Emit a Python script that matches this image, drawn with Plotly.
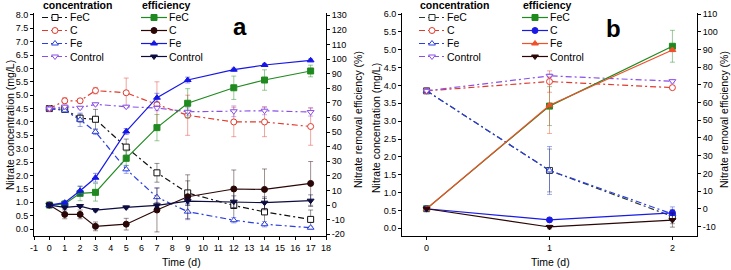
import plotly.graph_objects as go

W, H = 731, 270

# ---------------- data: panel a ----------------
days_a = [0, 1, 2, 3, 5, 7, 9, 12, 14, 17]
conc_a_FeC = [4.50, 4.47, 4.14, 4.10, 3.06, 2.10, 1.35, 0.88, 0.64, 0.36]
conc_a_C = [4.50, 4.79, 4.79, 5.17, 5.09, 4.65, 4.25, 4.00, 4.00, 3.83]
conc_a_Fe = [4.50, 4.43, 4.08, 3.63, 2.23, 1.19, 0.65, 0.33, 0.18, 0.05]
conc_a_Control = [4.50, 4.57, 4.53, 4.66, 4.57, 4.52, 4.38, 4.40, 4.42, 4.37]
conc_a_FeC_err = [0.03, 0.08, 0.15, 0.37, 0.30, 0.35, 0.45, 0.60, 0.50, 0.35]
conc_a_C_err = [0.03, 0.12, 0.08, 0.12, 0.55, 0.85, 0.75, 0.55, 0.55, 0.70]
conc_a_Fe_err = [0.03, 0.05, 0.25, 0.10, 0.15, 0.35, 0.30, 0.10, 0.10, 0.05]
conc_a_Control_err = [0.03, 0.05, 0.05, 0.05, 0.05, 0.10, 0.15, 0.20, 0.15, 0.15]

eff_a_FeC = [0, 0.7, 8.0, 8.7, 32.0, 53.0, 69.7, 80.3, 85.6, 91.8]
eff_a_C = [0, -6.4, -6.4, -14.6, -13.1, -3.4, 5.7, 11.0, 10.7, 14.8]
eff_a_Fe = [0, 1.6, 9.8, 18.7, 50.4, 73.5, 85.6, 92.7, 95.9, 99.1]
eff_a_Control = [0, -1.6, -0.7, -3.5, -1.6, -0.2, 2.7, 2.3, 1.6, 3.0]
eff_a_FeC_err = [0, 1, 5, 6, 5, 9, 10, 8, 7, 4]
eff_a_C_err = [0, 3, 3, 3, 4, 15, 15, 13, 14, 15]
eff_a_Fe_err = [0, 1, 3, 3, 2, 3, 2, 1, 1, 1]
eff_a_Control_err = [0, 1, 1, 1, 1, 2, 3, 4, 4, 4]

# ---------------- data: panel b ----------------
days_b = [0, 1, 2]
conc_b_FeC = [3.85, 1.62, 0.33]
conc_b_C = [3.85, 4.11, 3.94]
conc_b_Fe = [3.85, 1.62, 0.40]
conc_b_Control = [3.85, 4.27, 4.12]
conc_b_FeC_err = [0.02, 0.60, 0.20]
conc_b_C_err = [0.02, 0.30, 0.05]
conc_b_Fe_err = [0.02, 0.67, 0.20]
conc_b_Control_err = [0.02, 0.05, 0.05]

eff_b_FeC = [0, 58.0, 91.8]
eff_b_C = [0, -6.3, -2.3]
eff_b_Fe = [0, 58.5, 89.7]
eff_b_Control = [0, -10.3, -6.4]
eff_b_FeC_err = [0, 11, 9]
eff_b_C_err = [0, 1, 1.5]
eff_b_Fe_err = [0, 16, 1]
eff_b_Control_err = [0, 1, 4]

# ---------------- tick labels ----------------
xa_ticks = list(range(-1, 19))
xa_text = [str(v) for v in xa_ticks]
ya_left_ticks = [i * 0.5 for i in range(17)]
ya_left_text = ["%.1f" % v for v in ya_left_ticks]
ya_right_ticks = list(range(-20, 131, 10))
ya_right_text = [str(v) for v in ya_right_ticks]
xb_ticks = [0, 1, 2]
xb_text = ["0", "1", "2"]
yb_left_ticks = [i * 0.5 for i in range(13)]
yb_left_text = ["%.1f" % v for v in yb_left_ticks]
yb_right_ticks = list(range(-10, 111, 10))
yb_right_text = [str(v) for v in yb_right_ticks]

series_names = ["FeC", "C", "Fe", "Control"]

# ---------------- styles ----------------
FONT = "Liberation Sans, Arial, sans-serif"
DASH = "6px,3px,2px,3px"
OPEN_SYMS = ["square", "circle", "triangle-up", "triangle-down"]

colors_a_conc = ["#111111", "#e03a2c", "#2b3fe0", "#8a4fe6"]
colors_a_eff = ["#1f8a1f", "#2a0606", "#1616e6", "#0c0c40"]
colors_b_conc = ["#2e3a30", "#e03a2c", "#2b3fe0", "#8a4fe6"]
colors_b_eff = ["#1f8a1f", "#1a1ae6", "#f0502a", "#2a0606"]


def hex_rgba(h, a):
    h = h.lstrip("#")
    r, g, b = int(h[0:2], 16), int(h[2:4], 16), int(h[4:6], 16)
    return "rgba(%d,%d,%d,%.2f)" % (r, g, b, a)


fig = go.Figure()


def add_series(x, y, err, xa, ya, color, sym, is_open, name):
    marker = dict(symbol=sym, size=6, color="white" if is_open else color,
                  line=dict(color=color, width=1))
    fig.add_trace(go.Scatter(
        x=x, y=y, mode="lines+markers", xaxis=xa, yaxis=ya, name=name,
        showlegend=False,
        line=dict(color=color, width=1.2, dash=DASH if is_open else "solid"),
        marker=marker,
        error_y=dict(type="data", array=err, visible=True,
                     color=hex_rgba(color, 0.45), thickness=1, width=2.5),
    ))


conc_a = [conc_a_FeC, conc_a_C, conc_a_Fe, conc_a_Control]
conc_a_err = [conc_a_FeC_err, conc_a_C_err, conc_a_Fe_err, conc_a_Control_err]
eff_a = [eff_a_FeC, eff_a_C, eff_a_Fe, eff_a_Control]
eff_a_err = [eff_a_FeC_err, eff_a_C_err, eff_a_Fe_err, eff_a_Control_err]
conc_b = [conc_b_FeC, conc_b_C, conc_b_Fe, conc_b_Control]
conc_b_err = [conc_b_FeC_err, conc_b_C_err, conc_b_Fe_err, conc_b_Control_err]
eff_b = [eff_b_FeC, eff_b_C, eff_b_Fe, eff_b_Control]
eff_b_err = [eff_b_FeC_err, eff_b_C_err, eff_b_Fe_err, eff_b_Control_err]

for i, nm in enumerate(series_names):
    add_series(days_a, conc_a[i], conc_a_err[i], "x", "y", colors_a_conc[i], OPEN_SYMS[i], True, nm)
for i, nm in enumerate(series_names):
    add_series(days_a, eff_a[i], eff_a_err[i], "x", "y2", colors_a_eff[i], OPEN_SYMS[i], False, nm)
for i, nm in enumerate(series_names):
    add_series(days_b, conc_b[i], conc_b_err[i], "x3", "y3", colors_b_conc[i], OPEN_SYMS[i], True, nm)
for i, nm in enumerate(series_names):
    add_series(days_b, eff_b[i], eff_b_err[i], "x3", "y4", colors_b_eff[i], OPEN_SYMS[i], False, nm)

# ---------------- hand-drawn legends (pixel overlay axes) ----------------
ROWS = [17.5, 30.5, 43.5, 56.5]
HEADER_Y = 4.5
LEG_FONT = 10
annotations = []


def px(x, y):
    return x / W, 1 - y / H


def legend_block(x0, title, colors, is_open):
    tx, ty = px(x0, HEADER_Y)
    annotations.append(dict(x=tx, y=ty, xref="paper", yref="paper", text="<b>%s</b>" % title,
                            showarrow=False, xanchor="left", yanchor="middle", borderpad=0,
                            font=dict(family=FONT, size=LEG_FONT + 0.5, color="black")))
    for i, nm in enumerate(series_names):
        yy = ROWS[i]
        fig.add_trace(go.Scatter(x=[x0, x0 + 26], y=[yy, yy], mode="lines", xaxis="x5", yaxis="y5",
                                 showlegend=False, hoverinfo="skip",
                                 line=dict(color=colors[i], width=1.2, dash=DASH if is_open else "solid")))
        fig.add_trace(go.Scatter(x=[x0 + 13], y=[yy], mode="markers", xaxis="x5", yaxis="y5",
                                 showlegend=False, hoverinfo="skip",
                                 marker=dict(symbol=OPEN_SYMS[i], size=6,
                                             color="white" if is_open else colors[i],
                                             line=dict(color=colors[i], width=1))))
        lx, ly = px(x0 + 27, yy)
        annotations.append(dict(x=lx, y=ly, xref="paper", yref="paper", text=nm, showarrow=False,
                                xanchor="left", yanchor="middle", borderpad=0,
                                font=dict(family=FONT, size=LEG_FONT + 0.5, color="black")))


legend_block(42, "concentration", colors_a_conc, True)
legend_block(141, "efficiency", colors_a_eff, False)
legend_block(419, "concentration", colors_b_conc, True)
legend_block(522, "efficiency", colors_b_eff, False)


# axis titles and panel letters
def add_text(x, y, text, size, angle=0, bold=False):
    ax, ay = px(x, y)
    annotations.append(dict(x=ax, y=ay, xref="paper", yref="paper",
                            text="<b>%s</b>" % text if bold else text, showarrow=False,
                            xanchor="center", yanchor="middle", textangle=angle, borderpad=0,
                            font=dict(family=FONT, size=size, color="black")))


add_text(10, 125, "Nitrate concentration (mg/L)", 10.5, -90)
add_text(358, 120, "Nitrate removal efficiency (%)", 10.5, -90)
add_text(376, 128, "Nitrate concentration (mg/L)", 10.5, -90)
add_text(724, 120, "Nitrate removal efficiency (%)", 10.5, -90)
add_text(181, 262, "Time (d)", 10.5)
add_text(550, 262, "Time (d)", 10.5)
add_text(240, 26, "a", 24, bold=True)
add_text(613, 28, "b", 24, bold=True)

y_dom = [(H - 236) / H, (H - 13) / H]
common = dict(showline=True, linecolor="black", linewidth=1, ticks="outside", ticklen=3,
              tickcolor="black", showgrid=False, zeroline=False,
              tickfont=dict(family=FONT, size=9, color="black"), automargin=False)

fig.update_layout(
    width=W, height=H, margin=dict(l=0, r=0, t=0, b=0),
    paper_bgcolor="white", plot_bgcolor="rgba(0,0,0,0)",
    showlegend=False,
    xaxis=dict(domain=[34 / W, 326 / W], range=[-1, 18], anchor="y",
               tickmode="array", tickvals=xa_ticks, ticktext=xa_text, **common),
    yaxis=dict(domain=y_dom, range=[-0.26, 8.07], anchor="x",
               tickmode="array", tickvals=ya_left_ticks, ticktext=ya_left_text, **common),
    yaxis2=dict(overlaying="y", side="right", anchor="x", range=[-21.2, 131.5],
                tickmode="array", tickvals=ya_right_ticks, ticktext=ya_right_text, **common),
    xaxis3=dict(domain=[402 / W, 697 / W], range=[-0.2, 2.2], anchor="y3",
                tickmode="array", tickvals=xb_ticks, ticktext=xb_text, **common),
    yaxis3=dict(domain=y_dom, range=[-0.215, 6.03], anchor="x3",
                tickmode="array", tickvals=yb_left_ticks, ticktext=yb_left_text, **common),
    yaxis4=dict(overlaying="y3", side="right", anchor="x3", range=[-15.4, 110.6],
                tickmode="array", tickvals=yb_right_ticks, ticktext=yb_right_text, **common),
    xaxis5=dict(domain=[0, 1], range=[0, W], anchor="y5", visible=False, fixedrange=True),
    yaxis5=dict(domain=[0, 1], range=[H, 0], anchor="x5", visible=False, fixedrange=True),
    annotations=annotations,
)

fig.write_html("out.html",
               config={"displayModeBar": False},
               post_script="document.body.style.margin='0';document.body.style.padding='0';"
                           "document.body.style.overflow='hidden';")
